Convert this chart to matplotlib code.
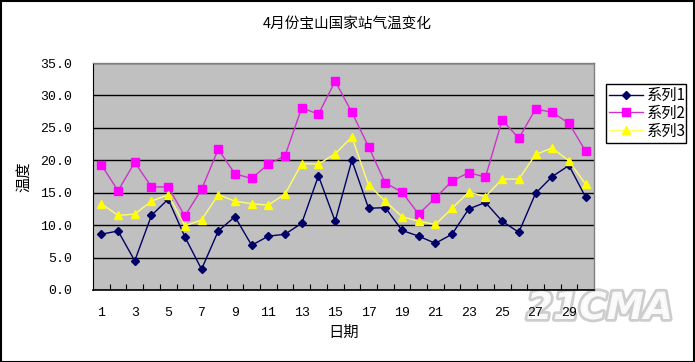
import matplotlib
matplotlib.use("Agg")
import matplotlib.pyplot as plt
import matplotlib.patheffects as pe
from matplotlib.ticker import FixedLocator

plt.rcParams['font.family'] = ['Noto Sans CJK SC', 'DejaVu Sans']

days = list(range(1, 31))
series1 = [8.6, 9.1, 4.5, 11.5, 14.0, 8.2, 3.2, 9.1, 11.3, 6.9,
           8.3, 8.6, 10.3, 17.6, 10.6, 20.0, 12.6, 12.7, 9.2, 8.3,
           7.2, 8.6, 12.5, 13.5, 10.6, 8.9, 14.9, 17.5, 19.2, 14.3]
series2 = [19.3, 15.3, 19.7, 15.9, 15.9, 11.4, 15.5, 21.7, 17.9, 17.2,
           19.4, 20.7, 28.1, 27.1, 32.2, 27.4, 22.1, 16.5, 15.1, 11.7,
           14.2, 16.8, 18.1, 17.4, 26.2, 23.4, 27.9, 27.4, 25.7, 21.4]
series3 = [13.3, 11.5, 11.7, 13.7, 14.7, 9.9, 10.8, 14.7, 13.7, 13.3,
           13.1, 14.8, 19.5, 19.4, 21.0, 23.6, 16.2, 13.7, 11.3, 10.6,
           10.1, 12.6, 15.1, 14.4, 17.1, 17.1, 20.9, 21.9, 19.9, 16.3]
names = ['系列1', '系列2', '系列3']
yticks = [0, 5, 10, 15, 20, 25, 30, 35]

W, H = 695, 362
fig = plt.figure(figsize=(W / 100, H / 100), dpi=100)
fig.patch.set_facecolor('white')

ax = fig.add_axes([93 / W, 1 - 290 / H, (594 - 93) / W, (290 - 63) / H])
ax.set_facecolor('#C0C0C0')

x = list(range(len(days)))
ax.plot(x, series1, color='#000066', lw=1.0, marker='D', ms=4.5, label=names[0], zorder=3)
ax.plot(x, series2, color='#CC33CC', mfc='#FF00FF', mec='#FF00FF', lw=1.0, marker='s', ms=6, label=names[1], zorder=3)
ax.plot(x, series3, color='#FFFF66', mfc='#FFFF00', mec='#FFFF00', lw=1.0, marker='^', ms=6, label=names[2], zorder=3)

numfont = ['Liberation Mono', 'DejaVu Sans Mono']
ax.set_xlim(-0.5, len(days) - 0.5)
ax.set_ylim(0, 35)
ax.set_yticks(yticks)
ax.set_yticklabels([f'{v:.1f}' for v in yticks], fontsize=9.5, family=numfont)
ax.yaxis.grid(True, color='black', lw=1.0)
ax.set_axisbelow(True)

ax.set_xticks(x[::2])
ax.set_xticklabels([str(d) for d in days[::2]], fontsize=9.5, family=numfont)
ax.xaxis.set_minor_locator(FixedLocator([i + 0.5 for i in range(len(days) - 1)]))
ax.tick_params(axis='x', which='major', length=0, pad=12)
ax.tick_params(axis='x', which='minor', direction='in', length=4, width=0.8, color='black')
ax.tick_params(axis='y', length=0, pad=15)

for s in ['top', 'right']:
    ax.spines[s].set_color('#808080')
    ax.spines[s].set_linewidth(1.0)
ax.spines['left'].set_color('black')
ax.spines['bottom'].set_color('black')
ax.spines['bottom'].set_linewidth(1.2)

ax.set_xlabel('日期', fontsize=11, labelpad=4)
ax.set_ylabel('温度', fontsize=11, labelpad=6)

fig.text(347 / W, 1 - 24 / H, '4月份宝山国家站气温变化', ha='center', va='center', fontsize=10.5)

leg = ax.legend(loc='upper left', bbox_to_anchor=(606 / W, 1 - 146 / H, 80 / W, 62 / H),
                bbox_transform=fig.transFigure, mode='expand', fontsize=11,
                frameon=True, fancybox=False, edgecolor='black', framealpha=1,
                borderpad=0.2, labelspacing=0.05, handlelength=2.2, handletextpad=0.3,
                borderaxespad=0)
leg.get_frame().set_linewidth(1.0)

wm = fig.text(600 / W, 1 - 309 / H, '21CMA', ha='center', va='center', fontsize=27,
              fontweight='bold', style='italic', color='white', family='DejaVu Sans',
              alpha=0.9, zorder=-1)
wm.set_path_effects([pe.withStroke(linewidth=4, foreground='#C8C8C8')])

border = plt.Rectangle((0.5 / W, 0.5 / H), 1 - 1.5 / W, 1 - 1.5 / H, transform=fig.transFigure,
                       fill=False, edgecolor='black', lw=1.5, zorder=20)
fig.patches.append(border)

fig.savefig('out.png', dpi=100, facecolor='white')
